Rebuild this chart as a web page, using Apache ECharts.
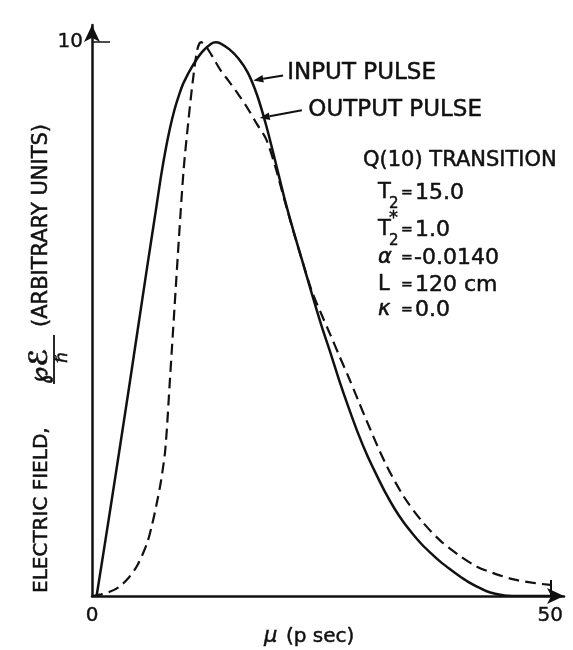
<!DOCTYPE html>
<html><head><meta charset="utf-8">
<script src="https://cdn.jsdelivr.net/npm/echarts@6/dist/echarts.min.js"></script>
<style>html,body{margin:0;padding:0;background:#fff}#c{width:573px;height:650px}</style>
</head><body><div id="c"></div>
<script>
// time (p sec) and electric field (arbitrary units)
const inputT = [0.5,1,2,3,4,5,6,7,7.5,8,8.5,9,9.5,10,11,12,13,13.5,14,15,16,17,18,19,20,21,22,23,24,25,26,27,28,29,30,31,32,33,34,35,36,37,38,39,40,41,42,43,44,45,47,50];
const inputE = [0,0.52,1.57,2.64,3.72,4.82,5.92,7.0,7.55,8.03,8.44,8.78,9.05,9.27,9.58,9.82,9.97,10,9.98,9.87,9.7,9.45,9.05,8.5,7.85,7.18,6.58,6.02,5.45,4.9,4.4,3.88,3.4,2.95,2.55,2.2,1.87,1.58,1.33,1.12,0.93,0.77,0.62,0.49,0.37,0.26,0.17,0.09,0.04,0.01,0,0];
const outputT = [0,1,2,3,4,5,6,6.5,7,7.5,8,8.5,9,9.5,10,10.5,11,11.5,11.9,12.4,13,14,15,16,17,18,19,20,21,22,23,24,25,26,27,28,29,30,32,34,36,38,40,42,44,46,48,50];
const outputE = [0,0.03,0.08,0.17,0.33,0.57,0.95,1.25,1.62,2.05,2.65,3.9,5.2,6.5,7.7,8.55,9.3,9.87,10,9.93,9.78,9.5,9.28,9.05,8.8,8.52,8.25,7.75,7.15,6.57,6.02,5.5,5.1,4.72,4.33,3.95,3.55,3.15,2.4,1.8,1.35,1.0,0.74,0.53,0.4,0.3,0.24,0.2];
const xTicks = [0, 50];
const yTicks = [10];
const xTickMarks = [50];
const yTickMarks = [10];
const labels = { input: 'INPUT PULSE', output: 'OUTPUT PULSE' };
// annotation anchors in data coordinates: arrow tip, arrow tail, text start
const inputNote = { tip:[17.6,9.31], tail:[20.85,9.4], text:[21.3,9.44] };
const outputNote = { tip:[18.3,8.63], tail:[22.9,8.77], text:[23.6,8.77] };

const FONT = '"DejaVu Sans", sans-serif';
const INK = '#111';
const chart = echarts.init(document.getElementById('c'));
chart.setOption({
  animation: false,
  backgroundColor: '#fff',
  grid: { left: 92, right: 9, top: 25, bottom: 54 },
  xAxis: {
    type: 'value', min: 0, max: 51.5, interval: 50,
    splitLine: { show: false },
    axisLine: { onZero: false, symbol: ['none','arrow'], symbolSize: [12,17], lineStyle: { color: INK, width: 2.5 } },
    axisTick: { show: true, inside: true, length: 16, customValues: xTickMarks, lineStyle: { color: INK, width: 2 } },
    axisLabel: { customValues: xTicks, margin: 10, color: INK, fontSize: 20, fontFamily: FONT, textBorderColor: INK, textBorderWidth: 0.4 }
  },
  yAxis: {
    type: 'value', min: 0, max: 10.31, interval: 10,
    splitLine: { show: false },
    axisLine: { onZero: false, symbol: ['none','arrow'], symbolSize: [12,17], lineStyle: { color: INK, width: 2.5 } },
    axisTick: { show: true, inside: true, length: 18, customValues: yTickMarks, lineStyle: { color: INK, width: 1.5 } },
    axisLabel: { customValues: yTicks, margin: 9, color: INK, fontSize: 20, fontFamily: FONT, textBorderColor: INK, textBorderWidth: 0.4 }
  },
  series: [
    { type: 'line', name: labels.input, data: inputT.map((t,i)=>[t,inputE[i]]), showSymbol: false, smooth: 0.3,
      lineStyle: { color: INK, width: 2.5 } },
    { type: 'line', name: labels.output, data: outputT.map((t,i)=>[t,outputE[i]]), showSymbol: false, smooth: 0.3,
      lineStyle: { color: INK, width: 2.2, type: [11,6] } }
  ]
});

function txtF(x, y, s, font) {
  return { type: 'text', x: x, y: y, silent: true,
    style: { text: s, font: font, fill: INK, stroke: INK, lineWidth: 0.5, align: 'left', verticalAlign: 'middle', textAlign: 'left', textVerticalAlign: 'middle' } };
}
function txt(x, y, s, size) { return txtF(x, y, s, size + 'px ' + FONT); }
function arrowEls(note) {
  const a = chart.convertToPixel({gridIndex:0}, note.tail);
  const b = chart.convertToPixel({gridIndex:0}, note.tip);
  const dx = b[0]-a[0], dy = b[1]-a[1], L = Math.hypot(dx,dy);
  const ux = dx/L, uy = dy/L, hl = 10, hw = 3.8;
  const bx = b[0]-ux*hl, by = b[1]-uy*hl;
  return [
    { type: 'line', silent: true, shape: { x1: a[0], y1: a[1], x2: bx, y2: by }, style: { stroke: INK, lineWidth: 2 } },
    { type: 'polygon', silent: true, shape: { points: [[b[0],b[1]],[bx-uy*hw,by+ux*hw],[bx+uy*hw,by-ux*hw]] }, style: { fill: INK } }
  ];
}
const ip = chart.convertToPixel({gridIndex:0}, inputNote.text);
const op = chart.convertToPixel({gridIndex:0}, outputNote.text);

const graphics = [].concat(
  arrowEls(inputNote), arrowEls(outputNote),
  [ txt(ip[0], ip[1], labels.input, 23), txt(op[0], op[1], labels.output, 23) ],
  [
    txt(363, 161, 'Q(10) TRANSITION', 21),
    txt(378, 193, 'T', 21), txt(389, 204, '2', 15), txt(401, 193, '=', 14), txt(415, 193, '15.0', 22),
    txt(378, 230, 'T', 21), txt(389, 218, '*', 18), txt(389, 241, '2', 15), txt(401, 230, '=', 14), txt(415, 230, '1.0', 22),
    txtF(378, 258, 'α', 'italic 21px ' + FONT), txt(401, 258, '=', 14), txt(414, 258, '-0.0140', 22),
    txt(378, 285, 'L', 21), txt(401, 285, '=', 14), txt(415, 285, '120 cm', 22),
    txtF(378, 310, 'κ', 'italic 21px ' + FONT), txt(401, 310, '=', 14), txt(415, 310, '0.0', 22),
    txtF(264, 637, 'μ', 'italic 21px ' + FONT), txt(286, 637, '(p sec)', 20),
    { type: 'group', x: 42, y: 593, rotation: Math.PI/2, silent: true, children: [
      txt(0, 0, 'ELECTRIC FIELD,', 20),
      txtF(209, -2, '℘ℰ', 'italic bold 25px ' + FONT),
      { type: 'line', shape: { x1: 209, y1: 12, x2: 258, y2: 12 }, style: { stroke: INK, lineWidth: 1.8 } },
      txtF(230, 21, 'ℏ', '17px ' + FONT),
      txt(266, 0, '(ARBITRARY UNITS)', 21)
    ]}
  ]
);
chart.setOption({ graphic: graphics });
</script>
</body></html>
